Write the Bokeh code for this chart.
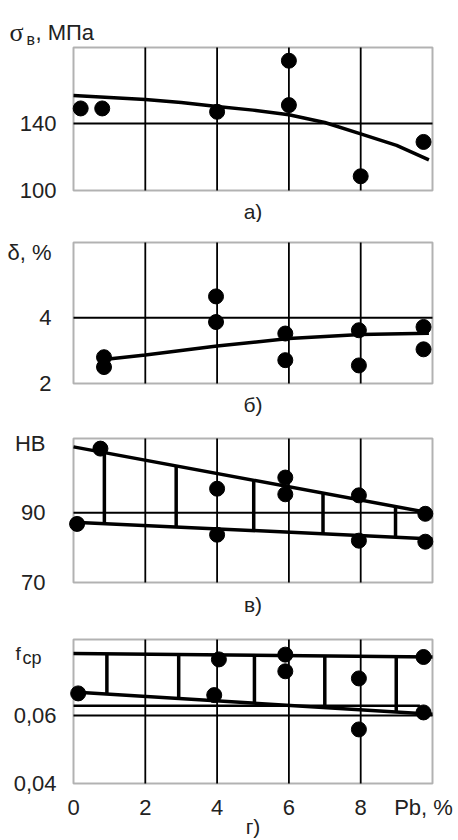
import numpy as np
from bokeh.plotting import figure
from bokeh.layouts import column
from bokeh.models import Label, FixedTicker, LinearAxis, BoxAnnotation
from bokeh.embed import file_html
from bokeh.resources import INLINE

FONT = "Liberation Sans"
SERIF = "Liberation Serif"
TXT = "#222222"

# common x axis (Pb, %)
x_lim = (0, 10)
x_grid = [2, 4, 6, 8]
x_ticks = [0, 2, 4, 6, 8, 9.75]
x_tick_labels = {9.75: "Pb, %"}

# ---- panel a: sigma_B, MPa
a_lim = (100, 185.4)
a_x = [0.2, 0.8, 4.0, 6.0, 6.0, 8.0, 9.75]
a_y = [149, 149, 147, 177.5, 151, 108.5, 129]
a_fit_x = [0, 1, 2, 3, 4, 5, 6, 7, 8, 9, 9.9]
a_fit_y = [156.7, 155.6, 154.3, 152.5, 150.1, 148.0, 145.2, 140.6, 133.8, 126.9, 118.3]
a_yticks = [100, 140]
a_ygrid = [140]

# ---- panel b: delta, %
b_lim = (2, 6.29)
b_x = [0.85, 0.85, 3.97, 3.97, 5.9, 5.9, 7.95, 7.95, 9.75, 9.75]
b_y = [2.8, 2.5, 4.65, 3.87, 3.52, 2.71, 3.62, 2.55, 3.72, 3.04]
b_fit_x = [0.85, 2, 4, 6, 8, 9.9]
b_fit_y = [2.73, 2.87, 3.14, 3.37, 3.49, 3.53]
b_yticks = [2, 4, 6]
b_ygrid = [4]
b_ylabels = {6: "δ, %"}

# ---- panel c: HB
c_lim = (70, 111.3)
c_x = [0.1, 0.75, 4.0, 4.0, 5.9, 5.9, 7.95, 7.95, 9.8, 9.8]
c_y = [86.8, 108.4, 96.9, 83.7, 100.1, 95.3, 95.0, 82.0, 89.7, 81.7]
c_up_x = [0, 9.8]
c_up_y = [108.9, 90.2]
c_lo_x = [0, 10]
c_lo_y = [87.3, 82.5]
c_hatch_x = [0.86, 2.86, 5.02, 6.95, 8.97]
c_yticks = [70, 90, 110]
c_ygrid = [90]
c_ylabels = {110: "HB"}

# ---- panel d: f_cp
d_lim = (0.04, 0.08235)
d_x = [0.13, 3.92, 4.05, 5.9, 5.9, 7.95, 7.95, 9.75, 9.75]
d_y = [0.0665, 0.066, 0.0765, 0.0779, 0.0730, 0.0709, 0.0559, 0.0772, 0.0609]
d_up_x = [0, 10]
d_up_y = [0.0782, 0.0772]
d_lo_x = [0, 10]
d_lo_y = [0.0669, 0.0604]
d_mid_x = [0, 9.65]
d_mid_y = [0.0629, 0.0629]
d_hatch_x = [0.93, 2.93, 5.04, 7.0, 8.99]
d_yticks = [0.04, 0.06]
d_ygrid = [0.06]
d_ylabels = {0.04: "0,04", 0.06: "0,06"}

captions = ["а)", "б)", "в)", "г)"]

W = 458
LEFT, RIGHT = 73, 26   # pixels left/right of the plot box


def make_panel(height, top, bottom, ylim, yticks, ygrid, standoff, ylabels=None):
    fw = W - LEFT - RIGHT
    fh = height - top - bottom
    xs = (x_lim[1] - x_lim[0]) / fw
    ys = (ylim[1] - ylim[0]) / fh
    xr = (x_lim[0] - LEFT * xs, x_lim[1] + RIGHT * xs)
    yr = (ylim[0] - bottom * ys, ylim[1] + top * ys)
    p = figure(width=W, height=height, x_range=xr, y_range=yr,
               min_border=0, output_backend="svg", toolbar_location=None,
               x_axis_location=None, y_axis_location=None)
    p.background_fill_color = "white"
    p.border_fill_color = "white"
    p.outline_line_color = None
    for g in p.grid:
        g.visible = False
    # grid lines inside the plot box
    p.segment(x0=x_grid, y0=[ylim[0]] * len(x_grid), x1=x_grid, y1=[ylim[1]] * len(x_grid),
              line_width=1.8, color="black")
    p.segment(x0=[x_lim[0]] * len(ygrid), y0=ygrid, x1=[x_lim[1]] * len(ygrid), y1=ygrid,
              line_width=1.8, color="black")
    p.add_layout(BoxAnnotation(left=x_lim[0], right=x_lim[1], bottom=ylim[0], top=ylim[1],
                               fill_alpha=0, line_color="black", line_width=2))
    ax = LinearAxis(fixed_location=x_lim[0], ticker=FixedTicker(ticks=yticks))
    if ylabels:
        ax.major_label_overrides = ylabels
    ax.axis_line_color = None
    ax.major_tick_line_color = None
    ax.minor_tick_line_color = None
    ax.major_label_standoff = standoff
    ax.major_label_text_font = FONT
    ax.major_label_text_font_size = "22px"
    ax.major_label_text_color = TXT
    p.add_layout(ax, "left")
    return p


def text(p, x, y, t, size, font=FONT, align="left", baseline="alphabetic"):
    p.add_layout(Label(x=x, y=y, x_units="screen", y_units="screen", text=t,
                       text_font=font, text_font_size=size, text_color=TXT,
                       text_align=align, text_baseline=baseline))


def dots(p, x, y):
    p.scatter(x, y, marker="circle", size=15, color="black")


CX = LEFT + (W - LEFT - RIGHT) / 2

# panel a  (canvas rows 0-222)
pa = make_panel(222, 47, 32, a_lim, a_yticks, a_ygrid, 11)
pa.line(a_fit_x, a_fit_y, line_width=3.5, color="black")
dots(pa, a_x, a_y)
text(pa, CX, 11, captions[0], "21px", align="center", baseline="middle")
text(pa, 9, 190, "σ", "26px", font=SERIF)
text(pa, 26, 183, "в", "16px")
text(pa, 35, 190, ", МПа", "22px")

# panel b  (canvas rows 222-418)
pb = make_panel(196, 20, 35, b_lim, b_yticks, b_ygrid, 16, b_ylabels)
pb.line(b_fit_x, b_fit_y, line_width=3.5, color="black")
dots(pb, b_x, b_y)
text(pb, CX, 14, captions[1], "21px", align="center", baseline="middle")

# panel c  (canvas rows 418-618)
pc = make_panel(200, 20, 36, c_lim, c_yticks, c_ygrid, 22, c_ylabels)
pc.line(c_up_x, c_up_y, line_width=3.5, color="black")
pc.line(c_lo_x, c_lo_y, line_width=3.5, color="black")
c_h_lo = np.interp(c_hatch_x, c_lo_x, c_lo_y)
c_h_up = np.interp(c_hatch_x, c_up_x, c_up_y)
pc.segment(x0=c_hatch_x, y0=c_h_lo, x1=c_hatch_x, y1=c_h_up, line_width=3.5, color="black")
dots(pc, c_x, c_y)
text(pc, CX, 14, captions[2], "21px", align="center", baseline="middle")

# panel d  (canvas rows 618-840)
pd_ = make_panel(222, 21, 57, d_lim, d_yticks, d_ygrid, 11, d_ylabels)
pd_.line(d_up_x, d_up_y, line_width=3.5, color="black")
pd_.line(d_lo_x, d_lo_y, line_width=3.5, color="black")
pd_.line(d_mid_x, d_mid_y, line_width=2.5, color="black")
d_h_lo = np.interp(d_hatch_x, d_lo_x, d_lo_y)
d_h_up = np.interp(d_hatch_x, d_up_x, d_up_y)
pd_.segment(x0=d_hatch_x, y0=d_h_lo, x1=d_hatch_x, y1=d_h_up, line_width=3.5, color="black")
dots(pd_, d_x, d_y)
xa = LinearAxis(fixed_location=d_lim[0], ticker=FixedTicker(ticks=x_ticks))
xa.major_label_overrides = x_tick_labels
xa.axis_line_color = None
xa.major_tick_line_color = None
xa.minor_tick_line_color = None
xa.major_label_standoff = 5
xa.major_label_text_font = FONT
xa.major_label_text_font_size = "22px"
xa.major_label_text_color = TXT
pd_.add_layout(xa, "below")
text(pd_, CX, 14, captions[3], "21px", align="center", baseline="middle")
text(pd_, 15, 187, "f", "19px")
text(pd_, 22, 183, "cp", "18px")

layout = column(pa, pb, pc, pd_)
open("out.html", "w").write(file_html(layout, INLINE))
